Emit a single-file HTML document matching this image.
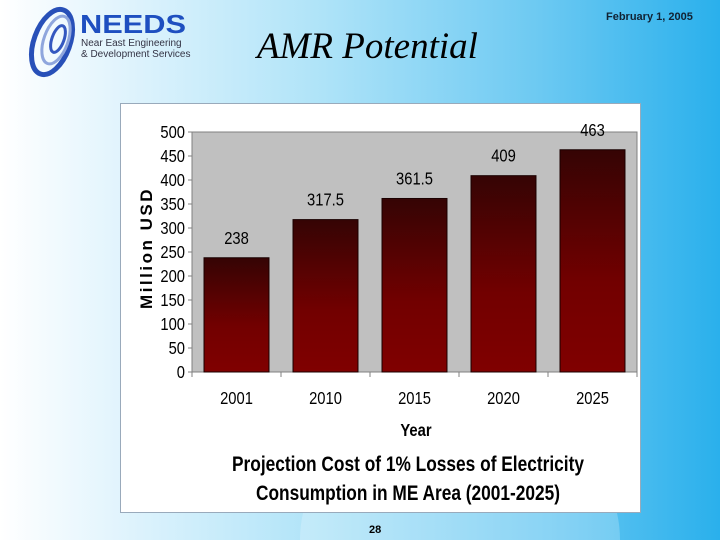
<!DOCTYPE html>
<html><head><meta charset="utf-8"><style>
html,body{margin:0;padding:0;width:720px;height:540px;overflow:hidden}
body{position:relative;font-family:"Liberation Sans",sans-serif;
background:linear-gradient(90deg,#ffffff 0%,#e4f5fd 15%,#aee3f8 45%,#6cc9f2 75%,#2ab0ec 100%);}
</style></head><body>
<div style="position:absolute;left:300px;top:400px;width:320px;height:140px;border-radius:50% 50% 0 0 / 100% 100% 0 0;background:rgba(255,255,255,0.22)"></div>
<svg style="position:absolute;left:0;top:0" width="200" height="80">
 <g fill="none">
  <ellipse cx="52" cy="42" rx="18" ry="34" transform="rotate(20 52 42)" stroke="#2850b8" stroke-width="5"/>
  <ellipse cx="56" cy="40" rx="12" ry="25" transform="rotate(20 56 40)" stroke="#8fa6dd" stroke-width="3"/>
  <ellipse cx="58" cy="39" rx="6" ry="14" transform="rotate(20 58 39)" stroke="#3458c0" stroke-width="3"/>
 </g>
 <text x="80" y="33" font-family="Liberation Sans" font-weight="bold" font-size="26" fill="#1e4fc0" textLength="106" lengthAdjust="spacingAndGlyphs">NEEDS</text>
 <text x="81" y="46" font-family="Liberation Sans" font-size="10" fill="#334">Near East Engineering</text>
 <text x="81" y="57" font-family="Liberation Sans" font-size="10" fill="#334">&amp; Development Services</text>
</svg>
<div style="position:absolute;left:257px;top:25px;font-family:'Liberation Serif',serif;font-style:italic;font-size:37px;color:#000">AMR Potential</div>
<div style="position:absolute;left:606px;top:11px;font-size:11px;font-weight:bold;color:#123">February 1, 2005</div>
<div style="position:absolute;left:369px;top:524px;font-size:11px;font-weight:bold;color:#000">28</div>
<div style="position:absolute;left:120px;top:103px;width:519px;height:408px;background:#fff;border:1px solid #9ab"></div>
<svg id="chart" style="position:absolute;left:0;top:0" width="720" height="540">
 <defs><linearGradient id="bg" x1="0" y1="0" x2="0" y2="1">
  <stop offset="0" stop-color="#350404"/><stop offset="0.6" stop-color="#720000"/><stop offset="1" stop-color="#800000"/></linearGradient></defs>
</svg>
<script>
const categories=["2001","2010","2015","2020","2025"];
const values=[238,317.5,361.5,409,463];
const valueLabels=["238","317.5","361.5","409","463"];
const yTicks=[0,50,100,150,200,250,300,350,400,450,500];
const NS="http://www.w3.org/2000/svg";
const svg=document.getElementById("chart");
const X0=192,X1=637,Y0=372,Y1=132,YMAX=500;
const y=v=>Y0-(v/YMAX)*(Y0-Y1);
const bw=(X1-X0)/categories.length;
const x=i=>X0+bw*i;
function mk(tag,attrs,txt){const e=document.createElementNS(NS,tag);for(const k in attrs)e.setAttribute(k,attrs[k]);if(txt!==undefined)e.textContent=txt;svg.appendChild(e);return e;}
function nt(px,py,anchor,size,bold,txt){return mk("text",{x:0,y:0,transform:`translate(${px} ${py}) scale(0.82 1)`,"text-anchor":anchor,"font-size":size,"font-weight":bold?"bold":"normal","font-family":"'Liberation Sans',sans-serif"},txt);}
let e=mk("rect",{x:X0,y:Y1,width:X1-X0,height:Y0-Y1,fill:"#c0c0c0",stroke:"#808080"});


yTicks.forEach(t=>{
 let l=mk("line",{x1:X0-4,x2:X0,y1:y(t),y2:y(t),stroke:"#808080"});
 
 
 let tx=nt(X0-7,y(t)+6,"end",18,false,String(t));
 
 
});
categories.forEach((c,i)=>{
 let l=mk("line",{x1:x(i),x2:x(i),y1:Y0,y2:Y0+5,stroke:"#808080"});
 
 
 const w=bw*0.73,cx=x(i)+bw/2;
 let r=mk("rect",{x:cx-w/2,y:y(values[i]),width:w,height:Y0-y(values[i]),fill:"url(#bg)",stroke:"#1a0000"});
 
 
 let v=nt(cx,y(values[i])-14,"middle",18,false,valueLabels[i]);
 
 
 let t=nt(cx,404,"middle",18,false,c);
 
 
});
let l5=mk("line",{x1:X1,x2:X1,y1:Y0,y2:Y0+5,stroke:"#808080"});


let yt=mk("text",{x:0,y:0,"text-anchor":"middle","font-size":17,"font-weight":"bold","letter-spacing":"2.5","font-family":"'Liberation Sans',sans-serif",transform:"translate(152 248) rotate(-90)"},"Million USD");


let xt=nt(416,436,"middle",18,true,"Year");


let c1=mk("text",{x:232,y:471,textLength:352,lengthAdjust:"spacingAndGlyphs","font-size":21,"font-weight":"bold","font-family":"'Liberation Sans',sans-serif"},"Projection Cost of 1%  Losses of Electricity");


let c2=mk("text",{x:256,y:500,textLength:304,lengthAdjust:"spacingAndGlyphs","font-size":21,"font-weight":"bold","font-family":"'Liberation Sans',sans-serif"},"Consumption in ME Area (2001-2025)");


</script>
</body></html>
